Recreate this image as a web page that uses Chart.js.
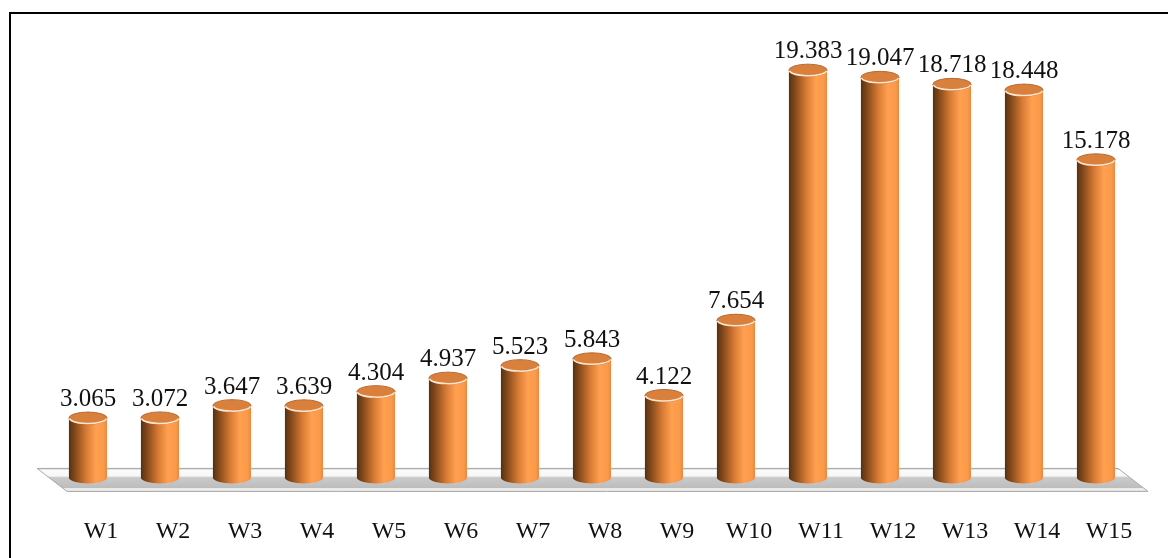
<!DOCTYPE html>
<html>
<head>
<meta charset="utf-8">
<script src="https://cdn.jsdelivr.net/npm/chart.js@4"></script>
<style>
  html, body { margin: 0; padding: 0; background: #fff; }
  #wrap { position: relative; width: 1168px; height: 558px; overflow: hidden; }
  #frame { position: absolute; left: 9px; top: 12px; width: 1300px; height: 700px;
           border-top: 2px solid #000; border-left: 2px solid #000; }
  canvas { position: absolute; left: 0; top: 0; }
</style>
</head>
<body>
<div id="wrap">
  <div id="frame"></div>
  <canvas id="chartBar" width="1168" height="558"></canvas>
</div>
<script>
// week labels and values
const weeks = ["W1", "W2", "W3", "W4", "W5", "W6", "W7", "W8", "W9", "W10", "W11", "W12", "W13", "W14", "W15"];
const values = [3.065, 3.072, 3.647, 3.639, 4.304, 4.937, 5.523, 5.843, 4.122, 7.654, 19.383, 19.047, 18.718, 18.448, 15.178];

const serif = "'Liberation Serif', 'Times New Roman', serif";

// the grey slab under the bars
const floorPlugin = {
  id: "floor",
  beforeDatasetsDraw(chart) {
    const { ctx, chartArea } = chart;
    const l = chartArea.left, r = chartArea.right, b = chartArea.bottom;
    const top = b - 15, bot = b + 8;
    ctx.save();
    ctx.beginPath();
    ctx.moveTo(l - 15, top);
    ctx.lineTo(r - 14, top);
    ctx.lineTo(r + 16, bot);
    ctx.lineTo(l + 15, bot);
    ctx.closePath();
    const g = ctx.createLinearGradient(0, top, 0, bot);
    g.addColorStop(0, "#bfbfbf");
    g.addColorStop(0.08, "#fbfbfb");
    g.addColorStop(0.33, "#f6f6f6");
    g.addColorStop(0.4, "#cacaca");
    g.addColorStop(0.84, "#bdbdbd");
    g.addColorStop(0.88, "#f2f2f2");
    g.addColorStop(1, "#e6e6e6");
    ctx.fillStyle = g;
    ctx.fill();
    ctx.strokeStyle = "#a8a8a8";
    ctx.lineWidth = 1;
    ctx.stroke();
    ctx.restore();
  }
};

// turn each bar into a cylinder and put its value above it
const cylinderPlugin = {
  id: "cylinder",
  afterDatasetsDraw(chart) {
    const { ctx } = chart;
    const meta = chart.getDatasetMeta(0);
    meta.data.forEach((bar, i) => {
      const x = bar.x, w = bar.width, rx = w / 2, ry = 6;
      const yTop = bar.y, yBot = bar.base - ry;
      const g = ctx.createLinearGradient(x - rx, 0, x + rx, 0);
      g.addColorStop(0, "#553011");
      g.addColorStop(0.2, "#8f4f1e");
      g.addColorStop(0.45, "#d67a34");
      g.addColorStop(0.7, "#ff9f4f");
      g.addColorStop(0.9, "#fb9a4a");
      g.addColorStop(1, "#e58c42");
      ctx.save();
      ctx.fillStyle = g;
      ctx.beginPath();
      ctx.moveTo(x - rx, yTop);
      ctx.lineTo(x - rx, yBot);
      ctx.ellipse(x, yBot, rx, ry, 0, Math.PI, 0, true);
      ctx.lineTo(x + rx, yTop);
      ctx.closePath();
      ctx.fill();
      // top cap
      ctx.beginPath();
      ctx.ellipse(x, yTop, rx, ry, 0, 0, Math.PI * 2);
      ctx.fillStyle = "#d8803c";
      ctx.fill();
      ctx.strokeStyle = "#b86a30";
      ctx.lineWidth = 1;
      ctx.stroke();
      ctx.beginPath();
      ctx.ellipse(x, yTop, rx - 0.5, ry - 0.5, 0, 0.1, Math.PI - 0.1);
      ctx.strokeStyle = "#fde6d0";
      ctx.lineWidth = 1.5;
      ctx.stroke();
      // value label
      ctx.fillStyle = "#111";
      ctx.font = "25px " + serif;
      ctx.textAlign = "center";
      ctx.textBaseline = "alphabetic";
      ctx.fillText(values[i].toFixed(3), x, yTop - 12);
      ctx.restore();
    });
  }
};

new Chart(document.getElementById("chartBar"), {
  type: "bar",
  data: {
    labels: weeks,
    datasets: [{
      data: values,
      backgroundColor: "rgba(0,0,0,0)",
      borderWidth: 0,
      barPercentage: 0.53,
      categoryPercentage: 1
    }]
  },
  options: {
    responsive: false,
    animation: false,
    layout: { padding: { left: 52, right: 36, top: 57, bottom: 0 } },
    plugins: { legend: { display: false }, tooltip: { enabled: false } },
    scales: {
      x: {
        grid: { display: false, drawTicks: false, tickLength: 0 },
        border: { display: false },
        afterFit: (scale) => { scale.height = 74.6; },
        ticks: { padding: 34, labelOffset: 13, color: "#111", font: { family: serif, size: 24 } }
      },
      y: { display: false, min: 0, max: 20 }
    }
  },
  plugins: [floorPlugin, cylinderPlugin]
});
</script>
</body>
</html>
